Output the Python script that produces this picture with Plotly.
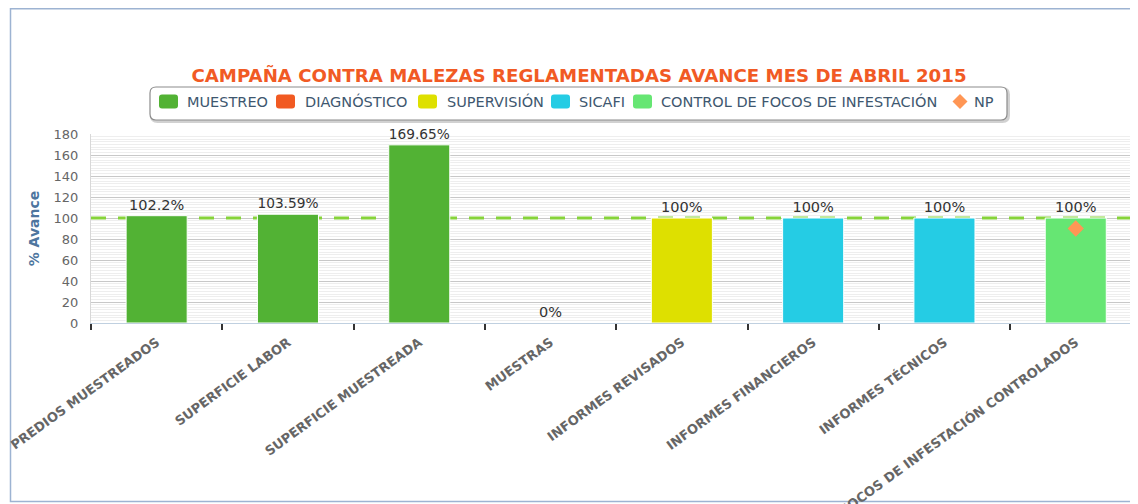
import plotly.graph_objects as go

# ---------------- data ----------------
categories = ["PREDIOS MUESTREADOS", "SUPERFICIE LABOR", "SUPERFICIE MUESTREADA", "MUESTRAS",
              "INFORMES REVISADOS", "INFORMES FINANCIEROS", "INFORMES TÉCNICOS",
              "FOCOS DE INFESTACIÓN CONTROLADOS"]
muestreo_cats = categories[0:4]
muestreo_vals = [102.2, 103.59, 169.65, 0]
diagnostico_cats = []
diagnostico_vals = []
supervision_cats = [categories[4]]
supervision_vals = [100]
sicafi_cats = [categories[5], categories[6]]
sicafi_vals = [100, 100]
control_cats = [categories[7]]
control_vals = [100]
np_cats = [categories[7]]
np_vals = [90]
meta = 100
y_ticks = list(range(0, 181, 20))

series_names = ["MUESTREO", "DIAGNÓSTICO", "SUPERVISIÓN", "SICAFI",
                "CONTROL DE FOCOS DE INFESTACIÓN", "NP"]
series_colors = ["#52B234", "#F15A22", "#DEE000", "#25CCE4", "#66E673", "#FF9655"]

title_text = "CAMPAÑA CONTRA MALEZAS REGLAMENTADAS AVANCE MES DE ABRIL 2015"

# ---------------- geometry helpers (page pixel -> paper) ----------------
OFF = 8                      # default body margin of the html page
W, H = 1130, 496
PLOT_L, PLOT_T, PLOT_B = 91, 134, 323          # page pixels
ML, MT, MB, MR = PLOT_L - OFF, PLOT_T - OFF, H - (PLOT_B - OFF), 0
PW = W - ML - MR
PH = H - MT - MB
CAT_PX = 131.3
X_MAX = -0.5 + PW / CAT_PX


def px(x):
    return (x - OFF - ML) / PW


def py(y):
    return (H - MB - (y - OFF)) / PH


def rrect(x0, y0, x1, y1, r):
    rx, ry = r / PW, r / PH
    X0, X1 = px(x0), px(x1)
    Y0, Y1 = py(y0), py(y1)  # Y0 top
    return (f"M{X0+rx},{Y0} L{X1-rx},{Y0} Q{X1},{Y0} {X1},{Y0-ry} "
            f"L{X1},{Y1+ry} Q{X1},{Y1} {X1-rx},{Y1} L{X0+rx},{Y1} "
            f"Q{X0},{Y1} {X0},{Y1+ry} L{X0},{Y0-ry} Q{X0},{Y0} {X0+rx},{Y0} Z")


FONT = "DejaVu Sans"
BAR_W = 0.465


def idx(cats):
    return [categories.index(c) for c in cats]


def lbl(vals):
    return [f"{v:g}%" for v in vals]


fig = go.Figure()

# meta (goal) line on the base subplot, so bars (overlay subplot) cover it
fig.add_trace(go.Scatter(
    x=[-0.5, X_MAX], y=[meta, meta], mode="lines", showlegend=False, hoverinfo="skip",
    line=dict(color="#86D33A", width=3, dash="15px,12px"), xaxis="x", yaxis="y",
))


def add_bar(name, cats, vals, color):
    if not vals:
        return
    fig.add_trace(go.Bar(
        name=name, x=idx(cats), y=vals, showlegend=False, xaxis="x", yaxis="y2",
        width=BAR_W, marker=dict(color=color, line=dict(color="white", width=1)),
        text=lbl(vals), textposition="outside",
        textfont=dict(family=FONT, size=14.5, color="#333333"),
        cliponaxis=False,
    ))


add_bar(series_names[0], muestreo_cats, muestreo_vals, series_colors[0])
add_bar(series_names[1], diagnostico_cats, diagnostico_vals, series_colors[1])
add_bar(series_names[2], supervision_cats, supervision_vals, series_colors[2])
add_bar(series_names[3], sicafi_cats, sicafi_vals, series_colors[3])
add_bar(series_names[4], control_cats, control_vals, series_colors[4])

fig.add_trace(go.Scatter(
    name=series_names[5], x=idx(np_cats), y=np_vals, mode="markers", showlegend=False,
    xaxis="x", yaxis="y2",
    marker=dict(symbol="diamond", size=12.5, color=series_colors[5]),
))

shapes = [
    # outer frame
    dict(type="rect", xref="paper", yref="paper", x0=px(10.5), x1=px(1160),
         y0=py(OFF + 0.75), y1=py(501.5),
         line=dict(color="#9DB3D2", width=1.5), layer="below"),
    # legend shadow + box
    dict(type="path", xref="paper", yref="paper", path=rrect(151.5, 88.5, 1008.5, 121.5, 6),
         line=dict(color="rgba(0,0,0,0.18)", width=3), layer="below"),
    dict(type="path", xref="paper", yref="paper", path=rrect(150, 87, 1007, 120, 6),
         line=dict(color="#8C8C8C", width=1.2), fillcolor="white", layer="below"),
]

# manual legend (layout positions in page pixels)
legend_swatch_x = [159, 276, 418, 551, 633]
legend_text_x = [185, 302.5, 444.5, 577, 659, 972]
LEG_Y = 101.5
annotations = []
for i, name in enumerate(series_names):
    annotations.append(dict(xref="paper", yref="paper", x=px(legend_text_x[i]), y=py(LEG_Y),
                            xanchor="left", yanchor="middle", showarrow=False, text=name,
                            font=dict(family=FONT, size=14.5, color="#3E576F")))
    if i < 5:
        sx = legend_swatch_x[i]
        shapes.append(dict(type="path", xref="paper", yref="paper",
                           path=rrect(sx, 94.5, sx + 19, 108.5, 3),
                           fillcolor=series_colors[i], line=dict(width=0), layer="above"))
    else:
        cx, cy, r = 960, 101.5, 7.5
        shapes.append(dict(type="path", xref="paper", yref="paper",
                           path=(f"M{px(cx)},{py(cy - r)} L{px(cx + r)},{py(cy)} "
                                 f"L{px(cx)},{py(cy + r)} L{px(cx - r)},{py(cy)} Z"),
                           fillcolor=series_colors[i], line=dict(width=0), layer="above"))

fig.update_layout(
    width=W, height=H,
    margin=dict(l=ML, r=MR, t=MT, b=MB, autoexpand=False),
    paper_bgcolor="white", plot_bgcolor="white",
    font=dict(family=FONT, color="#333333"),
    barmode="overlay", showlegend=False,
    title=dict(text=f"<b>{title_text}</b>", font=dict(family=FONT, size=18.2, color="#F15A24"),
               xref="paper", x=px(579), xanchor="center", yref="container",
               y=1 - (76 - OFF) / H, yanchor="middle"),
    shapes=shapes, annotations=annotations,
    xaxis=dict(range=[-0.5, X_MAX], tickvals=list(range(len(categories))), ticktext=categories,
               tickangle=-36, automargin=False, ticklabeloverflow="allow",
               tickfont=dict(family=FONT, size=13, color="#666666", weight="bold"),
               ticks="outside", ticklen=6, tickwidth=2, tickcolor="rgba(0,0,0,0)",
               minor=dict(tick0=0.5, dtick=1, ticks="outside", ticklen=6, tickwidth=2,
                          tickcolor="#333333", showgrid=False),
               showline=True, linecolor="#C0D0E0", linewidth=1, showgrid=False, zeroline=False),
    yaxis=dict(range=[0, 180], tickvals=y_ticks, showgrid=True, gridcolor="#C8C8C8", gridwidth=1,
               zeroline=False, showline=True, linecolor="#D8D8D8", linewidth=1, automargin=False,
               ticks="outside", ticklen=9, tickcolor="rgba(0,0,0,0)",
               tickfont=dict(family=FONT, size=13, color="#666666"),
               minor=dict(dtick=2.5, showgrid=True, gridcolor="#EEEEEE", gridwidth=1),
               title=dict(text="<b>% Avance</b>", standoff=10,
                          font=dict(family=FONT, size=14, color="#4D759E"))),
    yaxis2=dict(range=[0, 180], overlaying="y", side="left", showgrid=False, zeroline=False,
                showticklabels=False, ticks="", showline=False, automargin=False),
)

fig.write_html("out.html")
